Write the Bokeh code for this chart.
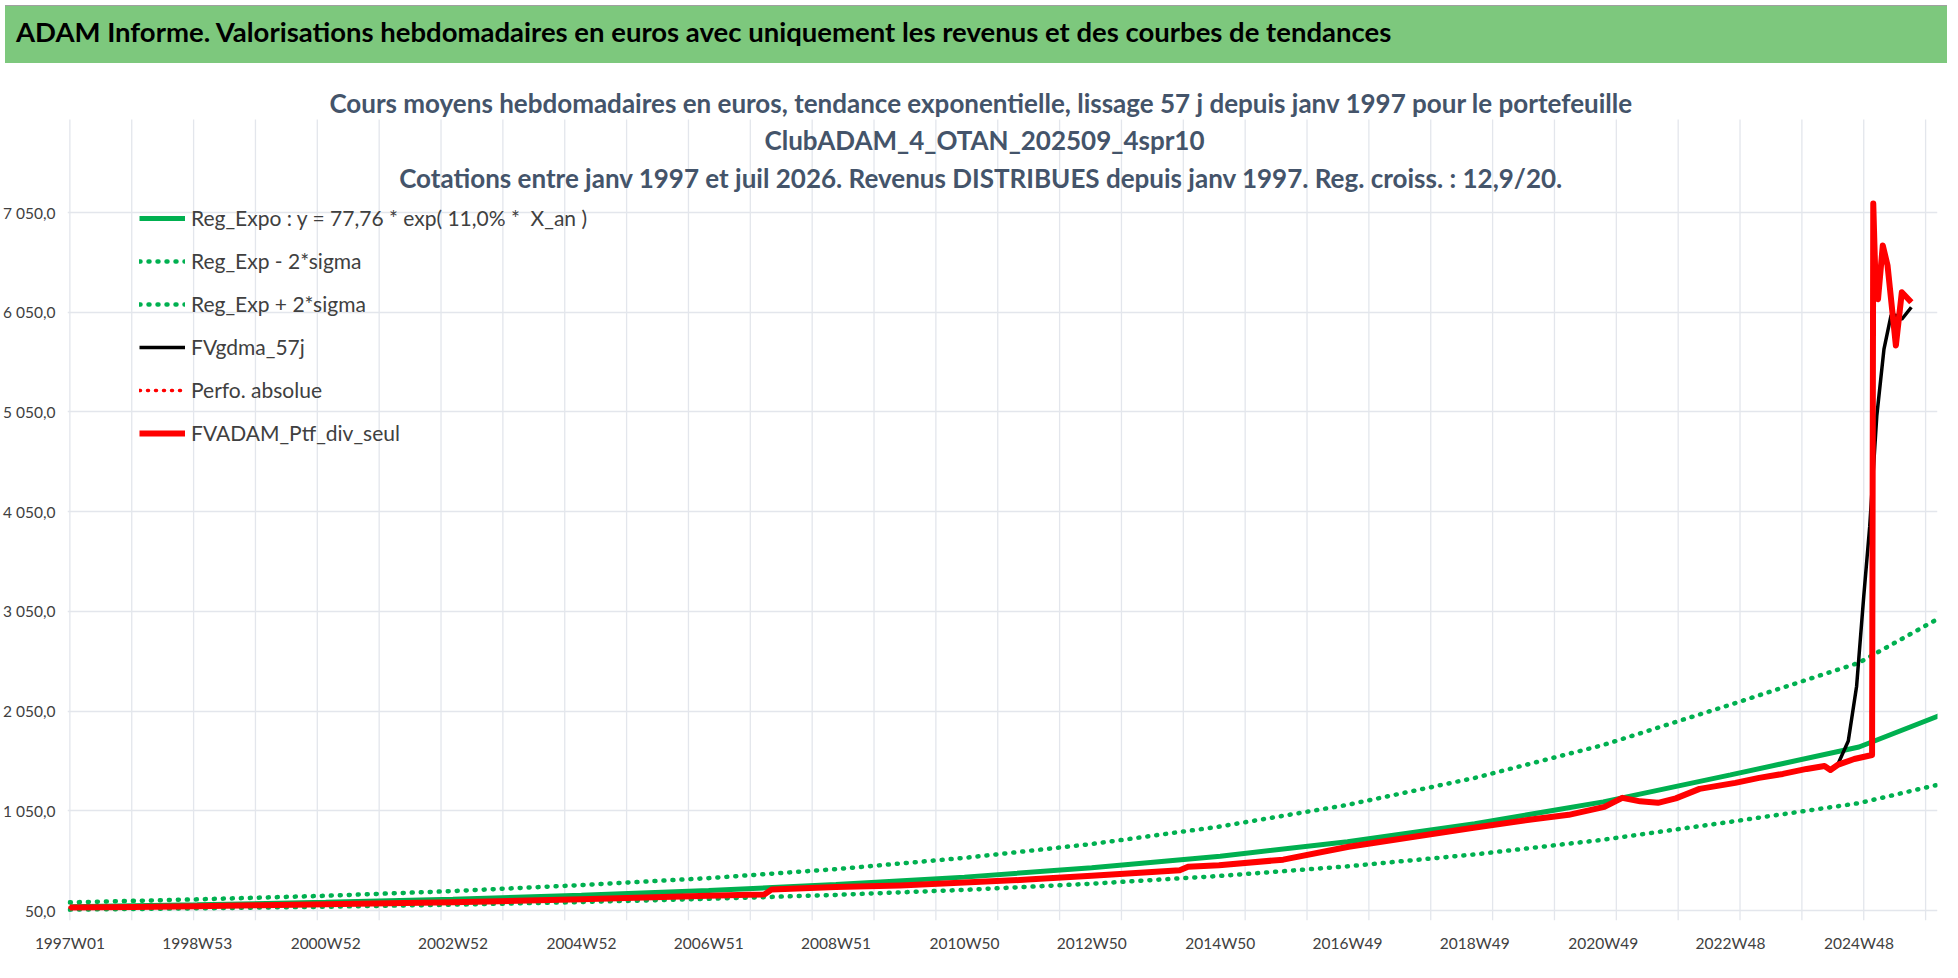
from bokeh.plotting import figure
from bokeh.models import (Div, Label, Legend, LegendItem, FixedTicker, Range1d)
from bokeh.layouts import column
from bokeh.embed import file_html
from bokeh.resources import INLINE

# ---- data (x = week index since 1997W01) ----
tick_weeks = [0, 107, 215, 322, 430, 537, 644, 752, 859, 967, 1074, 1181, 1289, 1396, 1504]
tick_labels = ["1997W01", "1998W53", "2000W52", "2002W52", "2004W52", "2006W51", "2008W51",
               "2010W50", "2012W50", "2014W50", "2016W49", "2018W49", "2020W49", "2022W48", "2024W48"]
y_ticks = [50, 1050, 2050, 3050, 4050, 5050, 6050, 7050]
y_labels = ["50,0", "1 050,0", "2 050,0", "3 050,0", "4 050,0", "5 050,0", "6 050,0", "7 050,0"]

trend_weeks = [0, 107, 215, 322, 430, 537, 644, 752, 859, 967, 1074, 1181, 1289, 1396, 1504, 1577]
reg_expo = [88, 108, 132, 163, 203, 250, 310, 385, 478, 595, 740, 920, 1140, 1410, 1690, 2030]
reg_upper = [132, 162, 198, 245, 305, 375, 465, 578, 717, 893, 1110, 1380, 1710, 2115, 2535, 3020]
reg_lower = [59, 72, 88, 109, 135, 167, 207, 257, 319, 397, 493, 613, 760, 940, 1127, 1330]

ptf_weeks = [0, 54, 107, 161, 215, 268, 322, 376, 430, 483, 537, 570, 584, 590, 644, 698, 752, 805,
             859, 913, 933, 940, 966, 1020, 1075, 1130, 1180, 1230, 1260, 1290, 1305, 1320, 1335,
             1350, 1370, 1400, 1420, 1440, 1460, 1475, 1480, 1486, 1500, 1515, 1516, 1518, 1520,
             1524, 1528, 1535, 1540, 1548]
ptf_vals = [80, 86, 94, 103, 112, 122, 134, 148, 163, 180, 198, 208, 212, 262, 285, 302, 330, 360,
            398, 440, 455, 490, 505, 560, 690, 790, 880, 965, 1010, 1090, 1180, 1145, 1130,
            1175, 1270, 1330, 1380, 1420, 1470, 1500, 1460, 1510, 1570, 1610, 7140, 6300, 6180,
            6720, 6520, 5717, 6250, 6150]
gdma_tail_weeks = [1495, 1502, 1508, 1513, 1519, 1525, 1531, 1535, 1540, 1548]
gdma_tail_vals = [1750, 2300, 3200, 3900, 5015, 5680, 6020, 6020, 5980, 6100]

n_head = sum(1 for w in ptf_weeks if w <= 1486)
gdma_weeks = ptf_weeks[:n_head] + gdma_tail_weeks
gdma_vals = ptf_vals[:n_head] + gdma_tail_vals
grid_weeks = [52 * i for i in range(31)]

GREEN = "#00B050"
RED = "#FF0000"
GRIDC = "#E3E6EC"

header = Div(text="ADAM Informe. Valorisations hebdomadaires en euros avec uniquement les revenus et des courbes de tendances",
             width=1942, height=58,
             styles={"background-color": "#7DC87D", "font-family": "Lato", "font-weight": "bold",
                     "font-size": "27.5px", "color": "black", "padding-left": "11px",
                     "line-height": "52px", "box-sizing": "border-box",
                     "border-top": "1px solid #A0A0A0"})

p = figure(width=1942, height=902, output_backend="svg", toolbar_location=None,
           x_range=Range1d(-2, 1570), y_range=Range1d(-50, 8354),
           min_border_left=62, min_border_right=5, min_border_top=14, min_border_bottom=50)
p.outline_line_color = None
p.background_fill_color = "white"
p.border_fill_color = "white"

p.xgrid.visible = False
p.segment(x0=grid_weeks, y0=[-50] * len(grid_weeks), x1=grid_weeks, y1=[7983] * len(grid_weeks),
          line_color=GRIDC, line_width=1.3, level="underlay")
p.ygrid.ticker = FixedTicker(ticks=y_ticks)
p.ygrid.grid_line_color = GRIDC
p.ygrid.grid_line_width = 1.5

p.xaxis.ticker = FixedTicker(ticks=tick_weeks)
p.xaxis.major_label_overrides = {w: l for w, l in zip(tick_weeks, tick_labels)}
p.yaxis.ticker = FixedTicker(ticks=y_ticks)
p.yaxis.major_label_overrides = {v: l for v, l in zip(y_ticks, y_labels)}
for ax in (p.xaxis, p.yaxis):
    ax.axis_line_color = None
    ax.major_tick_line_color = None
    ax.minor_tick_line_color = None
    ax.major_label_text_font = "Lato"
    ax.major_label_text_font_size = "15.5px"
    ax.major_label_text_color = "#404040"
p.xaxis.major_label_standoff = 7
p.yaxis.major_label_standoff = 6

r1 = p.line(trend_weeks, reg_expo, line_color=GREEN, line_width=5)
r2 = p.line(trend_weeks, reg_lower, line_color=GREEN, line_width=4.5, line_dash="1 8", line_cap="round")
r3 = p.line(trend_weeks, reg_upper, line_color=GREEN, line_width=4.5, line_dash="1 8", line_cap="round")
r4 = p.line(gdma_weeks, gdma_vals, line_color="black", line_width=3.5)
r5 = p.line(ptf_weeks, ptf_vals, line_color=RED, line_width=3.5, line_dash="1 7", line_cap="round")
r6 = p.line(ptf_weeks, ptf_vals, line_color=RED, line_width=6, line_join="round")

legend = Legend(items=[
    LegendItem(label="Reg_Expo : y = 77,76 * exp( 11,0% *  X_an )", renderers=[r1]),
    LegendItem(label="Reg_Exp - 2*sigma", renderers=[r2]),
    LegendItem(label="Reg_Exp + 2*sigma", renderers=[r3]),
    LegendItem(label="FVgdma_57j", renderers=[r4]),
    LegendItem(label="Perfo. absolue", renderers=[r5]),
    LegendItem(label="FVADAM_Ptf_div_seul", renderers=[r6]),
], location=(72, 475), orientation="vertical", background_fill_alpha=0, border_line_color=None,
    label_text_font="Lato", label_text_font_size="21px", label_text_color="#404040",
    glyph_width=46, glyph_height=20, label_height=20, spacing=18, padding=0, margin=0,
    label_standoff=6)
p.add_layout(legend)

subs = ["Cours moyens hebdomadaires  en euros, tendance exponentielle, lissage 57 j depuis janv 1997 pour le portefeuille",
        "ClubADAM_4_OTAN_202509_4spr10",
        "Cotations  entre janv 1997 et juil 2026. Revenus DISTRIBUES depuis janv 1997. Reg. croiss. : 12,9/20."]
for i, s in enumerate(subs):
    p.add_layout(Label(x=917, y=818 - 37.5 * i, x_units="screen", y_units="screen", text=s,
                       text_align="center", text_baseline="middle", text_font="Lato",
                       text_font_style="bold", text_font_size="26px", text_color="#44546A"))

open("out.html", "w").write(file_html(column(header, p, spacing=0), INLINE))
